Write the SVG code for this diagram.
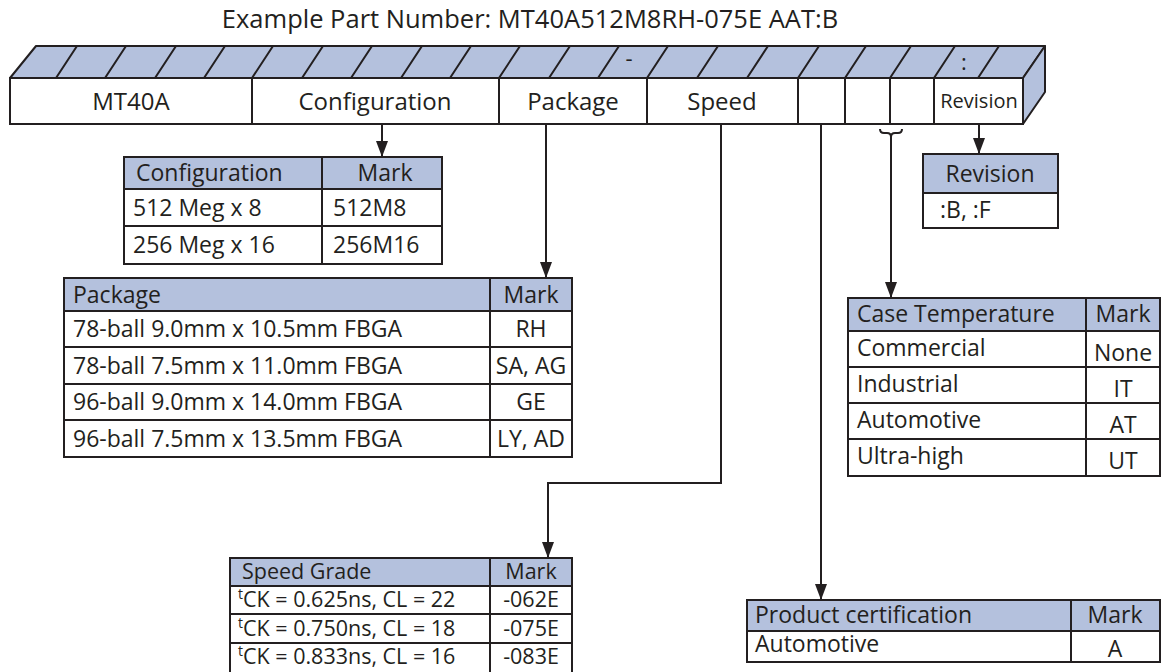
<svg xmlns="http://www.w3.org/2000/svg" width="1176" height="672" viewBox="0 0 1176 672">
<defs>
<style>
text{font-family:"Open Sans","Liberation Sans",sans-serif;fill:#231f20;}
.t{font-size:23px;}
.c{font-size:23px;text-anchor:middle;}
.s{font-size:21.5px;}
.sc{font-size:21.5px;text-anchor:middle;}
.b{font-size:24px;text-anchor:middle;}
.ln{stroke:#231f20;stroke-width:2;fill:none;}
.hd{fill:#b4c1dd;stroke:none;}
.box{fill:#ffffff;stroke:#231f20;stroke-width:2;}
.frame{fill:none;stroke:#231f20;stroke-width:2;}
.blue{fill:#b4c1dd;stroke:#231f20;stroke-width:2;stroke-linejoin:round;}
</style>
<marker id="ah" markerUnits="userSpaceOnUse" markerWidth="16" markerHeight="12" viewBox="0 0 16 12" refX="16" refY="6" orient="auto">
<path d="M0 0 L16 6 L0 12 Z" fill="#231f20"/>
</marker>
</defs>
<rect width="1176" height="672" fill="#ffffff"/>
<text x="530" y="28" style="font-size:25.5px;text-anchor:middle">Example Part Number: MT40A512M8RH-075E AAT:B</text>

<g id="part-number">
<polygon class="blue" points="10,78 36,46 1045,46 1023,78"/>
<polygon class="blue" points="1023,78 1045,46 1045,92 1023,124"/>
<rect class="box" x="10" y="78" width="1013" height="46"/>
<path class="ln" d="M56 78 L77 46 M105 78 L126 46 M155 78 L176 46 M204 78 L225 46 M252 78 L273 46 M302 78 L323 46 M351 78 L372 46 M401 78 L422 46 M450 78 L471 46 M499 78 L520 46 M549 78 L570 46 M598 78 L619 46 M647 78 L668 46 M697 78 L718 46 M747 78 L768 46 M798 78 L819 46 M845 78 L866 46 M890 78 L911 46 M934 78 L955 46 M978 78 L999 46"/>
<path class="ln" d="M252 78 V124 M499 78 V124 M647 78 V124 M798 78 V124 M845 78 V124 M890 78 V124 M934 78 V124"/>
<text x="629" y="66" style="font-size:22px;text-anchor:middle">-</text>
<text x="964" y="70" style="font-size:22px;text-anchor:middle">:</text>
<text class="b" x="131" y="110">MT40A</text>
<text class="b" x="375" y="110">Configuration</text>
<text class="b" x="573" y="110">Package</text>
<text class="b" x="722" y="110">Speed</text>
<text x="979" y="108" style="font-size:20px;text-anchor:middle">Revision</text>
</g>

<g id="connectors">
<line class="ln" x1="382" y1="124" x2="382" y2="157" marker-end="url(#ah)"/>
<line class="ln" x1="546" y1="124" x2="546" y2="278" marker-end="url(#ah)"/>
<path class="ln" d="M721 124 V483 H548 V558" marker-end="url(#ah)"/>
<line class="ln" x1="821" y1="124" x2="821" y2="600" marker-end="url(#ah)"/>
<path class="ln" d="M880 129 Q880 133 884 133 L887 133 Q891 133 891 137 Q891 133 895 133 L898 133 Q902 133 902 129"/>
<line class="ln" x1="891" y1="137" x2="891" y2="298" marker-end="url(#ah)"/>
<line class="ln" x1="979" y1="124" x2="979" y2="154" marker-end="url(#ah)"/>
</g>

<g id="config-table">
<rect class="box" x="124" y="157" width="318" height="107"/>
<rect class="hd" x="125" y="158" width="316" height="31"/>
<path class="ln" d="M124 189 H442 M124 226 H442 M322 157 V264"/>
<rect class="frame" x="124" y="157" width="318" height="107"/>
<text class="t" x="136" y="181">Configuration</text>
<text class="c" x="385" y="181">Mark</text>
<text class="t" x="133" y="216">512 Meg x 8</text>
<text class="t" x="333" y="216">512M8</text>
<text class="t" x="133" y="253">256 Meg x 16</text>
<text class="t" x="333" y="253">256M16</text>
</g>

<g id="package-table">
<rect class="box" x="64" y="278" width="508" height="179"/>
<rect class="hd" x="65" y="279" width="506" height="32"/>
<path class="ln" d="M64 311 H572 M64 347 H572 M64 384 H572 M64 420 H572 M490 278 V457"/>
<rect class="frame" x="64" y="278" width="508" height="179"/>
<text class="t" x="73" y="303">Package</text>
<text class="c" x="531" y="303">Mark</text>
<text class="t" x="73" y="337">78-ball 9.0mm x 10.5mm FBGA</text>
<text class="c" x="531" y="337">RH</text>
<text class="t" x="73" y="374">78-ball 7.5mm x 11.0mm FBGA</text>
<text class="c" x="531" y="374">SA, AG</text>
<text class="t" x="73" y="410">96-ball 9.0mm x 14.0mm FBGA</text>
<text class="c" x="531" y="410">GE</text>
<text class="t" x="73" y="447">96-ball 7.5mm x 13.5mm FBGA</text>
<text class="c" x="531" y="447">LY, AD</text>
</g>

<g id="speed-table">
<rect class="box" x="230" y="558" width="342" height="125"/>
<rect class="hd" x="231" y="559" width="340" height="27"/>
<path class="ln" d="M230 586 H572 M230 614 H572 M230 643 H572 M490 558 V683"/>
<rect class="frame" x="230" y="558" width="342" height="125"/>
<text class="s" x="242" y="579">Speed Grade</text>
<text class="sc" x="531" y="579">Mark</text>
<text class="s" x="238" y="607"><tspan style="font-size:14px" dy="-8">t</tspan><tspan dy="8">CK = 0.625ns, CL = 22</tspan></text>
<text class="sc" x="531" y="607">-062E</text>
<text class="s" x="238" y="636"><tspan style="font-size:14px" dy="-8">t</tspan><tspan dy="8">CK = 0.750ns, CL = 18</tspan></text>
<text class="sc" x="531" y="636">-075E</text>
<text class="s" x="238" y="664"><tspan style="font-size:14px" dy="-8">t</tspan><tspan dy="8">CK = 0.833ns, CL = 16</tspan></text>
<text class="sc" x="531" y="664">-083E</text>
</g>

<g id="case-temp-table">
<rect class="box" x="848" y="298" width="312" height="178"/>
<rect class="hd" x="849" y="299" width="310" height="32"/>
<path class="ln" d="M848 331 H1160 M848 367 H1160 M848 403 H1160 M848 439 H1160 M1086 298 V476"/>
<rect class="frame" x="848" y="298" width="312" height="178"/>
<text class="t" x="857" y="322">Case Temperature</text>
<text class="c" x="1123" y="322">Mark</text>
<text class="t" x="857" y="356">Commercial</text>
<text class="c" x="1123" y="361">None</text>
<text class="t" x="857" y="392">Industrial</text>
<text class="c" x="1123" y="397">IT</text>
<text class="t" x="857" y="428">Automotive</text>
<text class="c" x="1123" y="433">AT</text>
<text class="t" x="857" y="464">Ultra-high</text>
<text class="c" x="1123" y="469">UT</text>
</g>

<g id="product-cert-table">
<rect class="box" x="747" y="600" width="413" height="62"/>
<rect class="hd" x="748" y="601" width="411" height="30"/>
<path class="ln" d="M747 631 H1160 M1071 600 V662"/>
<rect class="frame" x="747" y="600" width="413" height="62"/>
<text class="t" x="755" y="623">Product certification</text>
<text class="c" x="1115" y="623">Mark</text>
<text class="t" x="755" y="652">Automotive</text>
<text class="c" x="1115" y="657">A</text>
</g>

<g id="revision-table">
<rect class="box" x="923" y="154" width="135" height="74"/>
<rect class="hd" x="924" y="155" width="133" height="38"/>
<path class="ln" d="M923 193 H1058"/>
<rect class="frame" x="923" y="154" width="135" height="74"/>
<text class="c" x="990" y="182">Revision</text>
<text class="t" x="940" y="218">:B, :F</text>
</g>
</svg>
